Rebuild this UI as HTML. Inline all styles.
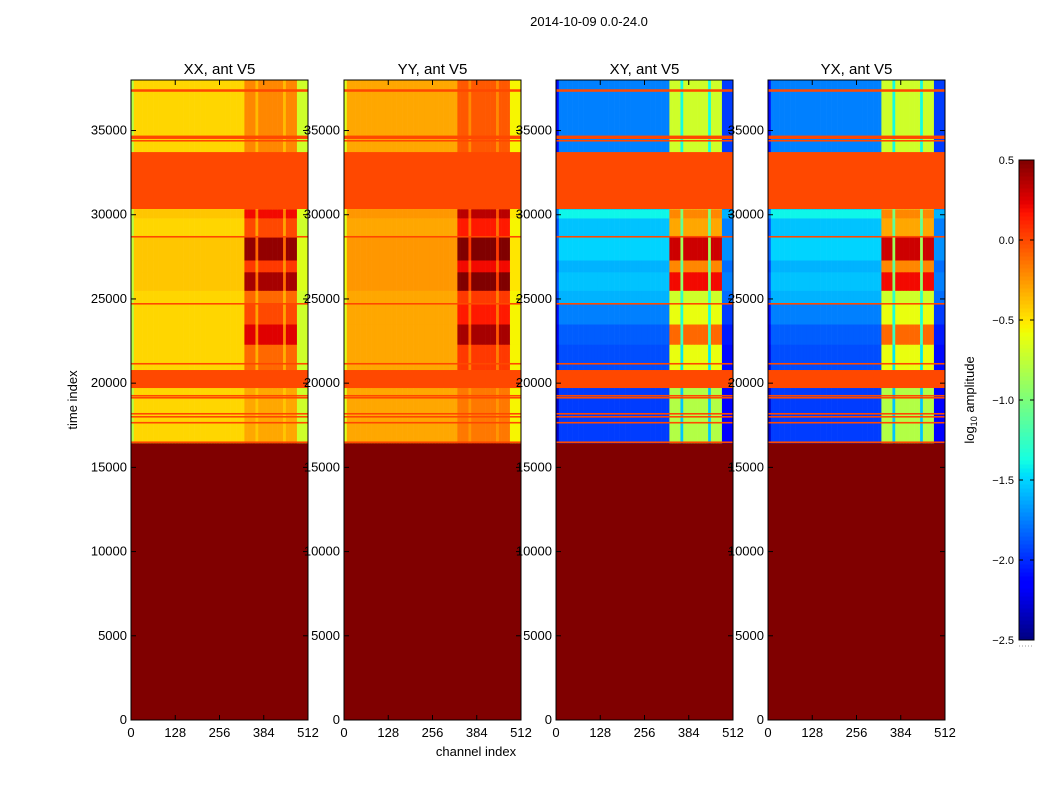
<!DOCTYPE html>
<html><head><meta charset="utf-8"><style>
body{margin:0;background:#fff;font-family:"Liberation Sans",sans-serif}
svg text{font-family:"Liberation Sans",sans-serif}
</style></head><body>
<svg id="fig" width="1050" height="800" xmlns="http://www.w3.org/2000/svg">
<rect width="1050" height="800" fill="#fff"/>
<text x="589" y="26" font-size="13" text-anchor="middle">2014-10-09 0.0-24.0</text>
<text x="476" y="756" font-size="13" text-anchor="middle">channel index</text>
<text transform="translate(77,400) rotate(-90)" font-size="13" text-anchor="middle">time index</text>
<text transform="translate(974,400) rotate(-90)" font-size="13" text-anchor="middle">log<tspan font-size="9" dy="3">10</tspan><tspan dy="-3"> amplitude</tspan></text>
<g id="panels"></g>
<g id="cbar"></g>
</svg>
<script>
// ---- data ----
const panelTitles = ["XX, ant V5","YY, ant V5","XY, ant V5","YX, ant V5"];
const panelIsCross = [0,0,1,1];
const panelOffset = [0,0.15,0,0];
const yTicks = [0,5000,10000,15000,20000,25000,30000,35000];
const xTicks = [0,128,256,384,512];
const cbTicks = [-2.5,-2.0,-1.5,-1.0,-0.5,0.0,0.5];
const emptyEnd = 16450;
const emptyValue = 0.5;
const segStart   = [16450,20780,22300,23500,24700,25500,26600,27300,28700,29800,30340,33720];
const segEnd     = [20780,22300,23500,24700,25500,26600,27300,28700,29800,30340,33720,38000];
const stripeCo   = [-0.3,-0.1,0.25,0.0,-0.1,0.4,0.05,0.45,0.0,0.2,-0.2,-0.2];
const stripeCross= [-0.8,-0.6,-0.1,-0.6,-0.7,0.2,-0.2,0.3,-0.3,-0.2,-0.7,-0.7];
const bgCo       = [-0.45,-0.45,-0.45,-0.45,-0.45,-0.4,-0.4,-0.4,-0.45,-0.4,-0.45,-0.45];
const bgCross    = [-1.95,-1.9,-1.85,-1.75,-1.6,-1.55,-1.6,-1.5,-1.55,-1.4,-1.7,-1.75];
const stripeStartCh = [330,370,410,450];
const stripeEndCh   = [362,405,444,480];
const flagBandStart = [30340,19710,34500,37300];
const flagBandEnd   = [33720,20780,34700,37450];
const flagLines = [16480,17640,17990,18170,19120,19240,21140,24700,28680,34380];
const flagValue = 0.0;
// ---- layout / helpers ----
const panelX = [131,344,556,768];
const chPerCol = 8, nCols = 64;
const NS="http://www.w3.org/2000/svg";
const vmin=-2.5,vmax=0.5;
const plotTop=80,plotBottom=720,pw=177,ymax=38000,xmax=512;
function yS(v){return plotBottom-(v/ymax)*(plotBottom-plotTop);}
function xS(px,v){return px+(v/xmax)*pw;}
function interp(pts,t){for(let i=1;i<pts.length;i++){if(t<=pts[i][0]){const a=pts[i-1],b=pts[i];return a[1]+(b[1]-a[1])*(t-a[0])/(b[0]-a[0]);}}return pts[pts.length-1][1];}
const JR=[[0,0],[0.35,0],[0.66,1],[0.89,1],[1,0.5]];
const JG=[[0,0],[0.125,0],[0.375,1],[0.64,1],[0.91,0],[1,0]];
const JB=[[0,0.5],[0.11,1],[0.34,1],[0.65,0],[1,0]];
function jet(v){let t=(v-vmin)/(vmax-vmin);t=Math.max(0,Math.min(1,t));
 return `rgb(${Math.round(255*interp(JR,t))},${Math.round(255*interp(JG,t))},${Math.round(255*interp(JB,t))})`;}
function el(tag,attrs,parent){const e=document.createElementNS(NS,tag);for(const k in attrs)e.setAttribute(k,attrs[k]);parent.appendChild(e);return e;}
function stripeMask(ch){for(let i=0;i<stripeStartCh.length;i++){if(ch>=stripeStartCh[i]&&ch<stripeEndCh[i])return 1;}
 if(ch>=stripeStartCh[0]&&ch<stripeEndCh[stripeEndCh.length-1])return 0.35;return 0;}
const G=document.getElementById('panels');
panelTitles.forEach((title,p)=>{
 const px=panelX[p];
 const g=el('g',{},G);
 
 
 const e=el('rect',{x:px,y:yS(emptyEnd),width:pw,height:yS(0)-yS(emptyEnd),fill:jet(emptyValue)},g);
 
 
 segStart.forEach((s,i)=>{
  const y1=yS(segEnd[i]),y0=yS(s);
  const bg=(panelIsCross[p]?bgCross[i]:bgCo[i])+panelOffset[p];
  const st=(panelIsCross[p]?stripeCross[i]:stripeCo[i])+panelOffset[p];
  for(let c=0;c<nCols;c++){
   const ch=c*chPerCol+chPerCol/2;
   const m=stripeMask(ch);
   let v=bg+(st-bg)*m;
   if(ch<8) v=bg-0.35;
   else if(ch>=480) v=bg-(panelIsCross[p]?0.2:0.25);
   const x0=xS(px,c*chPerCol),x1=xS(px,(c+1)*chPerCol);
   const r=el('rect',{x:x0,y:y1,width:x1-x0+0.3,height:y0-y1+0.3,fill:jet(v)},g);
   
   
  }
 });
 flagBandStart.forEach((s,i)=>{
  const r=el('rect',{x:px,y:yS(flagBandEnd[i]),width:pw,height:yS(s)-yS(flagBandEnd[i]),fill:jet(flagValue)},g);
  
  
 });
 flagLines.forEach(t=>{const r=el('rect',{x:px,y:yS(t)-1,width:pw,height:1.6,fill:jet(flagValue)},g);
  
  });
 el('rect',{x:px,y:plotTop,width:pw,height:plotBottom-plotTop,fill:'none',stroke:'#000','stroke-width':1},g);
 const t=el('text',{x:px+pw/2,y:74,'font-size':15,'text-anchor':'middle'},g);t.textContent=title;
 
 
 yTicks.forEach(v=>{const y=yS(v);
  el('line',{x1:px,x2:px+5,y1:y,y2:y,stroke:'#000'},g);el('line',{x1:px+pw-5,x2:px+pw,y1:y,y2:y,stroke:'#000'},g);
  const tx=el('text',{x:px-4,y:y+4,'font-size':13,'text-anchor':'end'},g);tx.textContent=v;
  
  });
 xTicks.forEach(v=>{const x=xS(px,v);
  el('line',{x1:x,x2:x,y1:plotBottom,y2:plotBottom-5,stroke:'#000'},g);el('line',{x1:x,x2:x,y1:plotTop,y2:plotTop+5,stroke:'#000'},g);
  const tx=el('text',{x:x,y:plotBottom+17,'font-size':13,'text-anchor':'middle'},g);tx.textContent=v;
  
  });
});
const C=document.getElementById('cbar');
const cbx=1019,cbw=15,cbt=160,cbb=640;
for(let i=0;i<120;i++){const v0=vmin+(vmax-vmin)*i/120,v1=vmin+(vmax-vmin)*(i+1)/120;
 const y=cbb-(v1-vmin)/(vmax-vmin)*(cbb-cbt);
 const r=el('rect',{x:cbx,y:y,width:cbw,height:(cbb-cbt)/120+0.5,fill:jet((v0+v1)/2)},C);
 
 }
el('rect',{x:cbx,y:cbt,width:cbw,height:cbb-cbt,fill:'none',stroke:'#000'},C);
el('line',{x1:cbx,x2:cbx+cbw,y1:cbb+6,y2:cbb+6,stroke:'#999','stroke-dasharray':'1,2'},C);
cbTicks.forEach(v=>{const y=cbb-(v-vmin)/(vmax-vmin)*(cbb-cbt);
 el('line',{x1:cbx,x2:cbx+4,y1:y,y2:y,stroke:'#000'},C);
 el('line',{x1:cbx+cbw-4,x2:cbx+cbw,y1:y,y2:y,stroke:'#000'},C);
 const tx=el('text',{x:1014,y:y+4,'font-size':11,'text-anchor':'end'},C);tx.textContent=(v<0?'\u2212':'')+Math.abs(v).toFixed(1);
 
 });
</script>
</body></html>
